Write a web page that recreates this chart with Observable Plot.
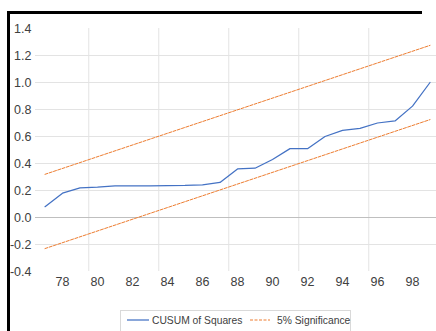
<!DOCTYPE html>
<html><head><meta charset="utf-8">
<script src="https://cdn.jsdelivr.net/npm/d3@7"></script>
<script src="https://cdn.jsdelivr.net/npm/@observablehq/plot@0.6"></script>
<style>
html,body{margin:0;padding:0;background:#fff;overflow:hidden;font-family:"Liberation Sans",Arial,sans-serif;}
#wrap{position:relative;width:436px;height:331px;overflow:hidden;background:#fff;}
#barL{position:absolute;left:7px;top:11px;width:3px;height:320px;background:#000;}
#barT{position:absolute;left:7px;top:11px;width:415px;height:3px;background:#000;}
#chart{position:absolute;left:0;top:0;width:436px;height:305px;}
#legend{position:absolute;left:120px;top:310px;width:231px;height:30px;border:1px solid #d9d9d9;box-sizing:border-box;font-size:10.3px;color:#404040;}
#legend svg{position:absolute;left:0;top:0;}
.lt{position:absolute;top:4px;white-space:nowrap;line-height:12px;}
</style></head>
<body>
<div id="wrap">
  <div id="chart"></div>
  <div id="barL"></div>
  <div id="barT"></div>
  <div id="legend">
    <svg width="231" height="30"><line x1="6" x2="28" y1="9" y2="9" stroke="#4472C4" stroke-width="1.25"/><line x1="129" x2="149" y1="9" y2="9" stroke="#ED7D31" stroke-width="1" stroke-dasharray="3,1.5"/></svg>
    <span class="lt" style="left:31px">CUSUM of Squares</span>
    <span class="lt" style="left:156px">5% Significance</span>
  </div>
</div>
<script>
const years = [77,78,79,80,81,82,83,84,85,86,87,88,89,90,91,92,93,94,95,96,97,98,99];
const cusum = [0.08,0.18,0.22,0.225,0.235,0.235,0.235,0.237,0.238,0.242,0.26,0.36,0.365,0.43,0.51,0.51,0.60,0.645,0.66,0.70,0.715,0.825,1.0];
const sigYears = [77,99];
const upper = [0.32,1.275];
const lower = [-0.23,0.725];
const xTicks = [78,80,82,84,86,88,90,92,94,96,98];
const yTicks = [-0.4,-0.2,0.0,0.2,0.4,0.6,0.8,1.0,1.2,1.4];
const yGrid = [-0.2,0.2,0.4,0.6,0.8,1.0,1.2];
const xGrid = [79.5,83.5,87.5,91.5,95.5];

const cusumData = years.map((y,i)=>({year:y, v:cusum[i]}));
const upData = sigYears.map((y,i)=>({year:y, v:upper[i]}));
const loData = sigYears.map((y,i)=>({year:y, v:lower[i]}));

const chart = Plot.plot({
  width: 436, height: 305,
  marginLeft: 35, marginRight: 0, marginTop: 28, marginBottom: 34,
  style: {fontFamily: "Liberation Sans, Arial, sans-serif", fontSize: "12px", color: "#404040", background: "transparent"},
  x: {domain: [76.457, 99.371], axis: null},
  y: {domain: [-0.4, 1.4], axis: null},
  marks: [
    Plot.ruleY(yGrid, {stroke: "#e3e3e3", strokeWidth: 1}),
    Plot.ruleX(xGrid, {y1: -0.4, y2: 1.4, stroke: "#e3e3e3", strokeWidth: 1}),
    Plot.ruleY([0], {stroke: "#bfbfbf", strokeWidth: 1}),
    Plot.axisY({ticks: yTicks, tickSize: 0, tickPadding: 4, tickFormat: d => d.toFixed(1), label: null, fontSize: 12.5}),
    Plot.axisX({ticks: xTicks, tickSize: 0, tickPadding: 6, tickFormat: d => String(d), label: null, fontSize: 12.5}),
    Plot.line(upData, {x: "year", y: "v", stroke: "#ED7D31", strokeWidth: 1, strokeDasharray: "3,1.5"}),
    Plot.line(loData, {x: "year", y: "v", stroke: "#ED7D31", strokeWidth: 1, strokeDasharray: "3,1.5"}),
    Plot.line(cusumData, {x: "year", y: "v", stroke: "#4472C4", strokeWidth: 1.25})
  ]
});
document.getElementById("chart").appendChild(chart);
</script>
</body></html>
